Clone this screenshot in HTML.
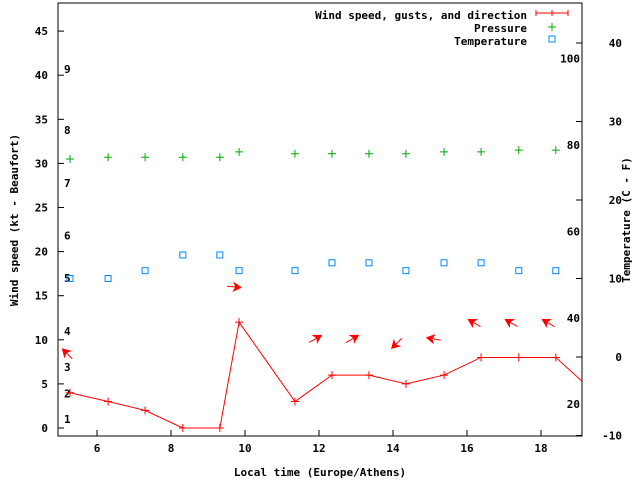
<!DOCTYPE html>
<html><head><meta charset="utf-8"><style>
body{margin:0;background:#fff}
svg text{font-family:"DejaVu Sans Mono","Liberation Mono",monospace;font-size:11px;font-weight:bold;fill:#000}
</style></head><body>
<svg id="c" width="640" height="480" xmlns="http://www.w3.org/2000/svg"></svg>
<script>
const hours=[5.27,6.3,7.3,8.32,9.32,9.84,11.35,12.35,13.35,14.35,15.38,16.38,17.4,18.4];
const wind=[4,3,2,0,0,12,3,6,6,5,6,8,8,8];
const pressure=[30.5,30.7,30.7,30.7,30.7,31.3,31.1,31.1,31.1,31.1,31.3,31.3,31.5,31.5];
const temp=[10,10,11,13,13,11,11,12,12,11,12,12,11,11];
const dirHours=[5.2,9.7,11.9,12.9,14.1,15.1,16.2,17.2,18.2];
const dirVal=[8.4,16,10.1,10.1,9.6,10.1,11.9,11.9,11.9];
const dirAngle=[225,5,-30,-30,135,190,210,210,210];
const xTicks=[6,8,10,12,14,16,18];
const yTicks=[0,5,10,15,20,25,30,35,40,45];
const y2Ticks=[-10,0,10,20,30,40];
const bft=[[1,1],[2,3.9],[3,6.9],[4,11],[5,17],[6,21.8],[7,27.8],[8,33.8],[9,40.7]];
const fLabels=[[100,38],[80,27],[60,16],[40,5],[20,-6]];
const L=58,R=582,T=3,B=436;
const x=h=>97+(h-6)*37;
const y=v=>428-v*8.82;
const y2=v=>357-v*7.85;
const s=document.getElementById('c');
function el(t,a,txt){const e=document.createElementNS('http://www.w3.org/2000/svg',t);for(const k in a)e.setAttribute(k,a[k]);if(txt!==undefined)e.textContent=txt;s.appendChild(e);return e;}
let e;
e=el('rect',{x:L,y:T,width:R-L,height:B-T,fill:'none',stroke:'#000'});


xTicks.forEach(t=>{
 e=el('line',{x1:x(t),x2:x(t),y1:B,y2:B-6,stroke:'#000'});
 
 
 e=el('text',{x:x(t),y:B+16,'text-anchor':'middle'},t);
 
 
});
yTicks.forEach(t=>{
 e=el('line',{x1:L,x2:L+6,y1:y(t),y2:y(t),stroke:'#000'});
 
 
 e=el('text',{x:L-10,y:y(t)+4,'text-anchor':'end'},t);
 
 
});
y2Ticks.forEach(t=>{
 e=el('line',{x1:R,x2:R-6,y1:y2(t),y2:y2(t),stroke:'#000'});
 
 
 e=el('text',{x:R+40,y:y2(t)+4,'text-anchor':'end'},t);
 
 
});
bft.forEach(b=>{
 e=el('text',{x:64,y:y(b[1])+4},b[0]);
 
 
});
fLabels.forEach(f=>{
 e=el('text',{x:580,y:y2(f[1])+4,'text-anchor':'end'},f[0]);
 
 
});
e=el('text',{x:320,y:476,'text-anchor':'middle'},'Local time (Europe/Athens)');


e=el('text',{x:18,y:220,'text-anchor':'middle',transform:'rotate(-90 18 220)'},'Wind speed (kt - Beaufort)');


e=el('text',{x:630,y:220,'text-anchor':'middle',transform:'rotate(-90 630 220)'},'Temperature (C - F)');


// wind line
let pts=hours.map((h,i)=>x(h)+','+y(wind[i])).join(' ')+' '+R+','+y(5.3);
e=el('polyline',{points:pts,fill:'none',stroke:'#f00','stroke-width':1});


hours.forEach((h,i)=>{
 e=el('path',{d:`M${x(h)-4},${y(wind[i])}h8M${x(h)},${y(wind[i])-4}v8`,stroke:'#f00'});
 
 
 e=el('path',{d:`M${x(h)-4},${y(pressure[i])}h8M${x(h)},${y(pressure[i])-4}v8`,stroke:'#0a0'});
 
 
 e=el('rect',{x:x(h)-3,y:y2(temp[i])-3,width:6,height:6,fill:'none',stroke:'#08f'});
 
 
});
dirHours.forEach((h,i)=>{
 const cx=x(h),cy=y(dirVal[i]);
 e=el('g',{transform:`translate(${cx},${cy}) rotate(${dirAngle[i]})`});
 
 
 const l=document.createElementNS('http://www.w3.org/2000/svg','path');
 l.setAttribute('d','M-7,0H3');l.setAttribute('stroke','#f00');e.appendChild(l);
 const p=document.createElementNS('http://www.w3.org/2000/svg','path');
 p.setAttribute('d','M7,0L0,-4L2,0L0,4Z');p.setAttribute('fill','#f00');p.setAttribute('stroke','#f00');e.appendChild(p);
});
// legend
[['Wind speed, gusts, and direction',15],['Pressure',28],['Temperature',41]].forEach((l,i)=>{
 e=el('text',{x:527,y:l[1]+4,'text-anchor':'end'},l[0]);
 
 
});
e=el('path',{d:'M536,13h32M536,10v6M568,10v6M552,10v6',stroke:'#f00'});


e=el('path',{d:'M548,27h8M552,23v8',stroke:'#0a0'});


e=el('rect',{x:549,y:36,width:6,height:6,fill:'none',stroke:'#08f'});


</script>
</body></html>
